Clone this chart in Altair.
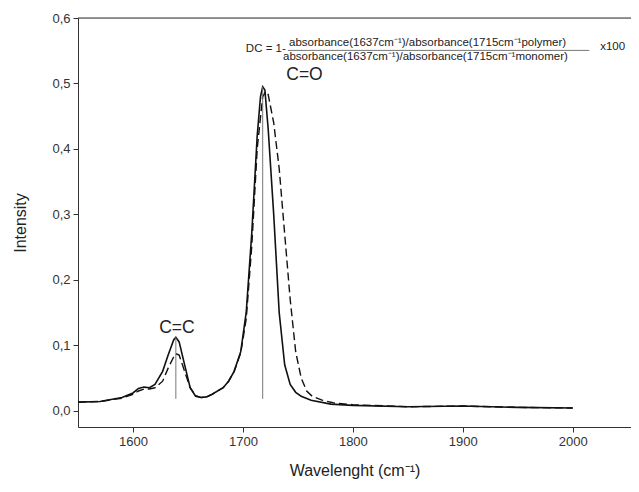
import altair as alt
import pandas as pd

# Solid spectrum (wavenumber, intensity)
solid_x = [1550, 1570, 1590, 1600, 1605, 1610, 1615, 1620, 1627, 1632, 1637, 1639, 1642, 1647, 1652, 1657,
           1662, 1667, 1672, 1682, 1687, 1692, 1698, 1703, 1708, 1713, 1716, 1718, 1720, 1723, 1728, 1733,
           1738, 1743, 1748, 1753, 1762, 1780, 1800, 1850, 1900, 1950, 2000]
solid_y = [0.013, 0.014, 0.02, 0.027, 0.034, 0.036, 0.035, 0.04, 0.06, 0.085, 0.108, 0.112, 0.105, 0.07, 0.035, 0.022,
           0.02, 0.021, 0.025, 0.035, 0.045, 0.06, 0.09, 0.15, 0.27, 0.42, 0.48, 0.495, 0.49, 0.43, 0.30, 0.15,
           0.07, 0.04, 0.028, 0.022, 0.016, 0.01, 0.008, 0.006, 0.007, 0.005, 0.004]

# Dashed spectrum
dash_x = [1550, 1570, 1590, 1600, 1605, 1610, 1615, 1620, 1627, 1632, 1637, 1639, 1642, 1647, 1652, 1657,
          1662, 1667, 1672, 1682, 1687, 1692, 1698, 1703, 1708, 1713, 1718, 1721, 1723, 1728, 1733, 1738,
          1743, 1748, 1753, 1758, 1763, 1772, 1782, 1800, 1850, 1900, 1950, 2000]
dash_y = [0.013, 0.014, 0.019, 0.025, 0.03, 0.033, 0.033, 0.035, 0.045, 0.065, 0.082, 0.087, 0.085, 0.06, 0.035, 0.023,
          0.02, 0.021, 0.025, 0.035, 0.045, 0.06, 0.088, 0.14, 0.25, 0.40, 0.48, 0.488, 0.483, 0.44, 0.37, 0.27,
          0.17, 0.09, 0.05, 0.03, 0.022, 0.016, 0.012, 0.009, 0.006, 0.007, 0.005, 0.004]

# Peak marker lines
marker_x = [1639, 1718]
marker_y0 = [0.018, 0.018]
marker_y1 = [0.112, 0.495]

# Peak labels
peak_labels = ["C=C", "C=O"]
peak_label_x = [1640, 1756]
peak_label_y = [0.119, 0.505]

# Formula text
dc_text = ["DC = 1-"]
num_text = ["absorbance(1637cm\u207b\u00b9)/absorbance(1715cm\u207b\u00b9polymer)"]
den_text = ["absorbance(1637cm\u207b\u00b9)/absorbance(1715cm\u207b\u00b9monomer)"]
x100_text = ["x100"]

FONT = "Liberation Sans"
X_DOMAIN = [1550, 2053]
Y_DOMAIN = [-0.025, 0.6]

df_solid = pd.DataFrame({"x": solid_x, "y": solid_y})
df_dash = pd.DataFrame({"x": dash_x, "y": dash_y})
df_mark = pd.DataFrame({"x": marker_x, "y0": marker_y0, "y1": marker_y1})
df_lab = pd.DataFrame({"x": peak_label_x, "y": peak_label_y, "t": peak_labels})

xscale = alt.Scale(domain=X_DOMAIN, nice=False, zero=False)
yscale = alt.Scale(domain=Y_DOMAIN, nice=False, zero=False)

xaxis = alt.Axis(title="Wavelenght (cm\u207b\u00b9)", values=[1600, 1700, 1800, 1900, 2000], grid=False,
                 format="d",
                 labelFont=FONT, labelFontSize=13, labelColor="#333", titleFont=FONT, titleFontSize=16,
                 titleFontWeight="normal", titleColor="#222", tickSize=5, tickColor="#333", domainColor="#333",
                 labelPadding=3, titlePadding=14)
yaxis = alt.Axis(title="Intensity", values=[0, 0.1, 0.2, 0.3, 0.4, 0.5, 0.6], grid=False,
                 labelExpr="replace(format(datum.value, '.1f'), '.', ',')",
                 labelFont=FONT, labelFontSize=13, labelColor="#333", titleFont=FONT, titleFontSize=16,
                 titleFontWeight="normal", titleColor="#222", tickSize=5, tickColor="#333", domainColor="#333",
                 labelPadding=3, titlePadding=23)

solid = alt.Chart(df_solid).mark_line(color="#111", strokeWidth=1.6).encode(
    x=alt.X("x:Q", scale=xscale, axis=xaxis),
    y=alt.Y("y:Q", scale=yscale, axis=yaxis),
)
dash = alt.Chart(df_dash).mark_line(color="#111", strokeWidth=1.4, strokeDash=[8, 4]).encode(
    x="x:Q", y="y:Q"
)
markers = alt.Chart(df_mark).mark_rule(color="#777", strokeWidth=1).encode(
    x="x:Q", y="y0:Q", y2="y1:Q"
)
labels = alt.Chart(df_lab).mark_text(font=FONT, fontSize=17.5, color="#222", baseline="alphabetic").encode(
    x="x:Q", y="y:Q", text="t:N"
)
top_line = alt.Chart(pd.DataFrame({"a": [0]})).mark_rule(color="#333", strokeWidth=1).encode(
    x=alt.datum(X_DOMAIN[0]), x2=alt.datum(X_DOMAIN[1]), y=alt.datum(Y_DOMAIN[1])
)

def txt(t, x, y, align="center", size=11.5):
    return alt.Chart(pd.DataFrame({"t": t})).mark_text(
        font=FONT, fontSize=size, color="#222", align=align, baseline="middle"
    ).encode(x=alt.datum(x), y=alt.datum(y), text="t:N")

f_dc = txt(dc_text, 1739, 0.553, align="right")
f_num = txt(num_text, 1868, 0.5625)
f_den = txt(den_text, 1866, 0.540)
f_x100 = txt(x100_text, 2025, 0.555, align="left")
frac_line = alt.Chart(pd.DataFrame({"a": [0]})).mark_rule(color="#555", strokeWidth=0.8).encode(
    x=alt.datum(1741), x2=alt.datum(2015), y=alt.datum(0.5505)
)

chart = alt.layer(
    solid, dash, markers, labels, top_line, f_dc, f_num, f_den, f_x100, frac_line
).properties(
    width=553, height=409,
    autosize=alt.AutoSizeParams(type="none"),
    padding={"left": 70, "top": 10, "right": 0, "bottom": 56},
).configure_view(stroke=None).configure(background="white")

chart.save("out.html", embed_options={"renderer": "svg", "actions": False})
